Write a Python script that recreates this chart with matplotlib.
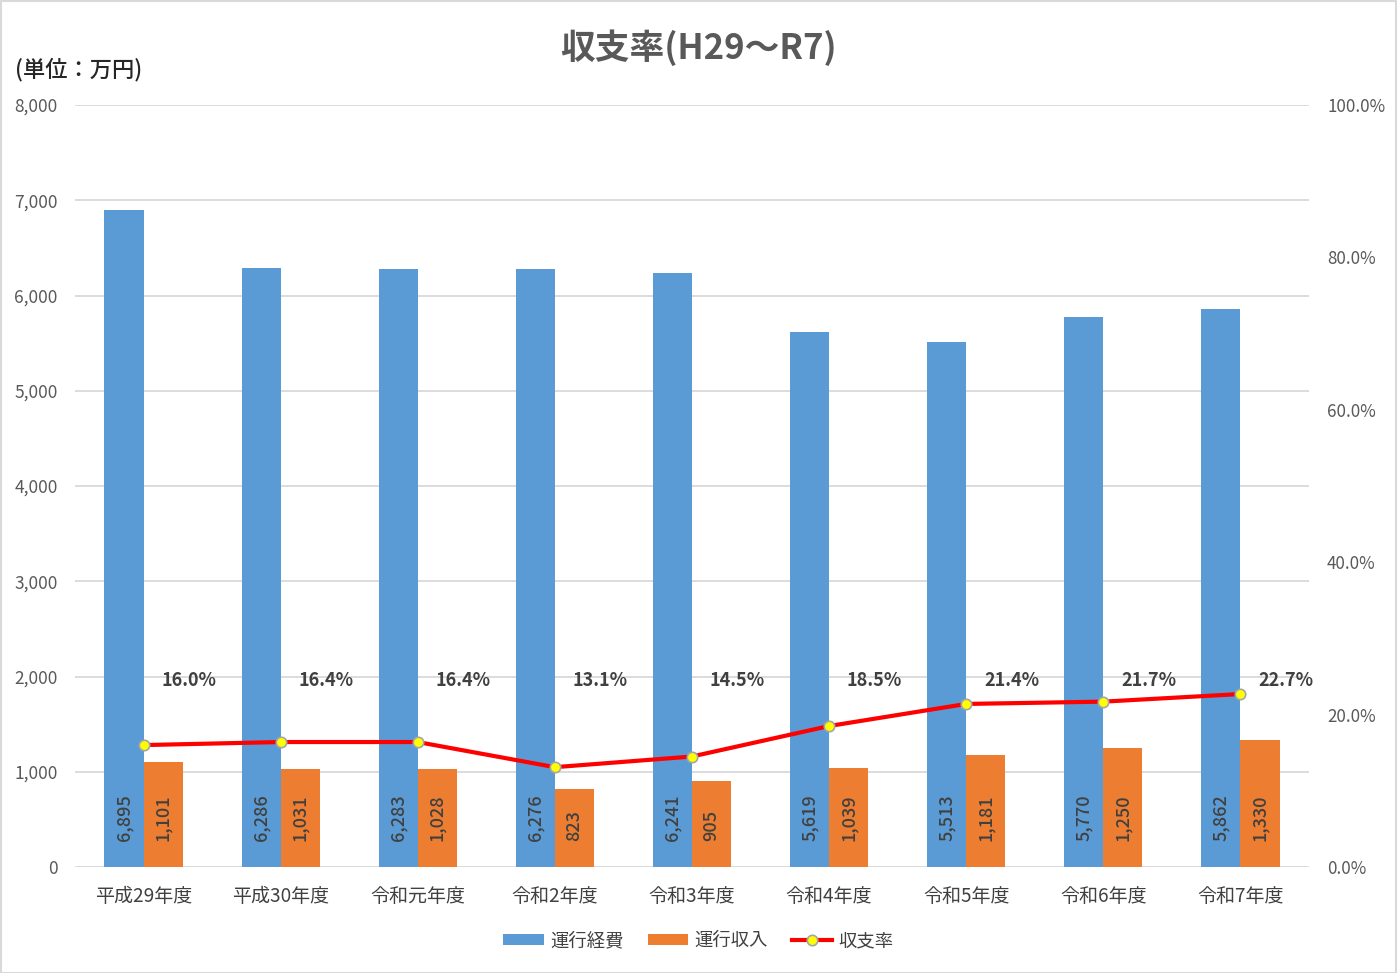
import numpy as np
import matplotlib
matplotlib.use("Agg")
import matplotlib.pyplot as plt
from matplotlib.patches import Rectangle
from matplotlib.transforms import blended_transform_factory

plt.rcParams['font.family'] = ['Noto Sans CJK JP', 'DejaVu Sans']

# data
categories = ['平成29年度', '平成30年度', '令和元年度', '令和2年度', '令和3年度',
              '令和4年度', '令和5年度', '令和6年度', '令和7年度']
cost = [6895, 6286, 6283, 6276, 6241, 5619, 5513, 5770, 5862]      # 運行経費
revenue = [1101, 1031, 1028, 823, 905, 1039, 1181, 1250, 1330]      # 運行収入
ratio = [16.0, 16.4, 16.4, 13.1, 14.5, 18.5, 21.4, 21.7, 22.7]      # 収支率 (%)

blue = '#5B9BD5'
orange = '#ED7D31'
txt = '#404040'
grid = '#D9D9D9'

W, H = 1397, 973
fig = plt.figure(figsize=(W / 100, H / 100), dpi=100)
ax = fig.add_axes([75 / W, (H - 867) / H, (1309 - 75) / W, (867 - 105) / H])

x = np.arange(len(categories))
w = 0.285
b1 = ax.bar(x - w / 2, cost, w, color=blue, label='運行経費', zorder=2)
b2 = ax.bar(x + w / 2, revenue, w, color=orange, label='運行収入', zorder=2)

# value labels at bar base, rotated
for bars, vals in ((b1, cost), (b2, revenue)):
    for r, v in zip(bars, vals):
        ax.annotate(f'{v:,}', (r.get_x() + r.get_width() / 2, 0),
                    xytext=(0, 19), textcoords='offset points',
                    rotation=90, ha='center', va='bottom',
                    fontsize=13, fontweight='medium', color=txt, zorder=3)

ax.set_xlim(-0.5, len(categories) - 0.5)
ax.set_ylim(0, 8000)
ax.set_yticks(np.arange(0, 8001, 1000))
ax.set_yticklabels([f'{v:,}' for v in range(0, 8001, 1000)])
ax.set_xticks(x)
ax.set_xticklabels(categories)
ax.yaxis.grid(True, color=grid, linewidth=1.3, zorder=0)
ax.set_axisbelow(True)
for s in ax.spines.values():
    s.set_visible(False)
ax.tick_params(axis='y', length=0, pad=12.5, labelsize=12.5, labelcolor='#595959')
ax.tick_params(axis='x', length=0, pad=14, labelsize=13.7, labelcolor=txt)

# ratio line on secondary axis
ax2 = ax.twinx()
ax2.set_ylim(0, 100)
ax2.set_yticks(np.arange(0, 101, 20))
ax2.set_yticklabels([f'{v:.1f}%' for v in range(0, 101, 20)])
for s in ax2.spines.values():
    s.set_visible(False)
ax2.tick_params(axis='y', length=0, pad=13, labelsize=12.2, labelcolor='#595959')
line, = ax2.plot(x, ratio, color='#FF0000', linewidth=3, marker='o',
                 markersize=7.5, markerfacecolor='#FFFF00',
                 markeredgecolor='#A5A5A5', markeredgewidth=1.2,
                 label='収支率', zorder=4)

tr = blended_transform_factory(ax2.transData, ax2.transAxes)
for xi, r in zip(x, ratio):
    ax2.text(xi + 0.33, 0.245, f'{r:.1f}%', transform=tr, ha='center',
             va='center', fontsize=13, fontweight='bold', color=txt)

fig.text(0.5, 1 - 48 / H, '収支率(H29～R7)', ha='center', va='center',
         fontsize=25, fontweight='bold', color='#595959')
fig.text(15 / W, 1 - 70 / H, '(単位：万円)', ha='left', va='center',
         fontsize=16, fontweight='medium', color='#262626')

fig.legend(handles=[b1, b2, line], loc='center', bbox_to_anchor=(0.5, 1 - 941 / H),
           ncol=3, frameon=False, fontsize=13.2, handlelength=2.2,
           handleheight=0.55, columnspacing=1.3, handletextpad=0.35)
for t in fig.legends[0].get_texts():
    t.set_color(txt)

fig.patches.append(Rectangle((0.5 / W, 0.5 / H), 1 - 1.5 / W, 1 - 1.5 / H,
                             transform=fig.transFigure, fill=False,
                             edgecolor=grid, linewidth=1.5))

fig.savefig('out.png', dpi=100)
